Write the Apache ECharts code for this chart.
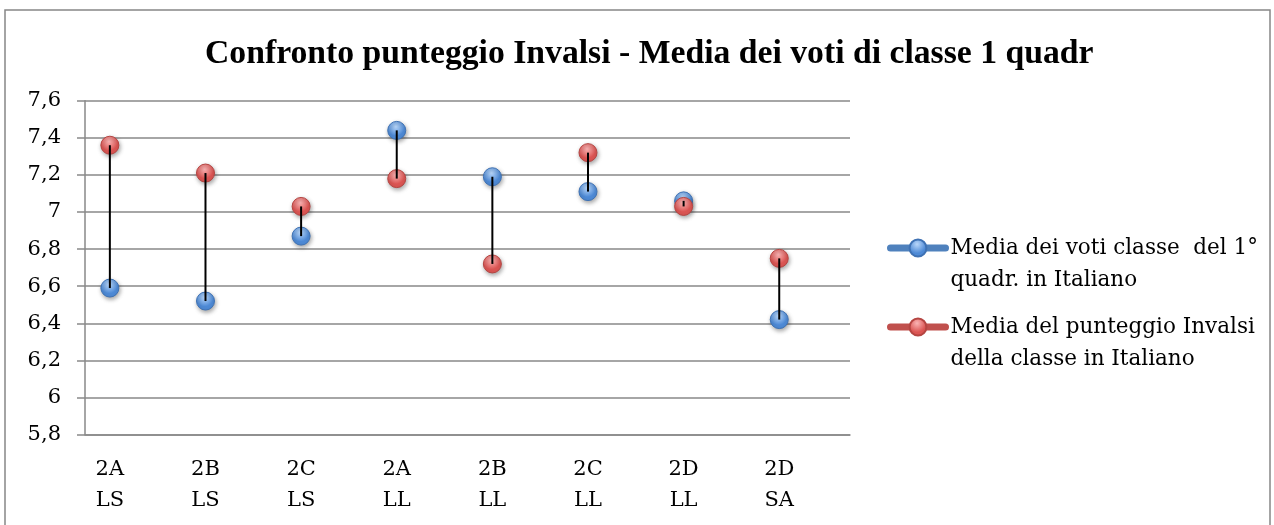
<!DOCTYPE html>
<html>
<head>
<meta charset="utf-8">
<script src="https://cdn.jsdelivr.net/npm/echarts@6/dist/echarts.min.js"></script>
<style>
html,body{margin:0;padding:0;background:#fff;}
#chart{width:1274px;height:525px;}
</style>
</head>
<body>
<div id="chart"></div>
<script>
const titleText = 'Confronto punteggio Invalsi - Media dei voti di classe 1 quadr';
const categories = ['2A\nLS', '2B\nLS', '2C\nLS', '2A\nLL', '2B\nLL', '2C\nLL', '2D\nLL', '2D\nSA'];
const seriesNames = ['Media dei voti classe  del 1° quadr. in Italiano', 'Media del punteggio Invalsi della classe in Italiano'];
const legendLabels = ['Media dei voti classe  del 1°\nquadr. in Italiano', 'Media del punteggio Invalsi\ndella classe in Italiano'];
const votiClasse = [6.59, 6.52, 6.87, 7.44, 7.19, 7.11, 7.06, 6.42];
const punteggioInvalsi = [7.36, 7.21, 7.03, 7.18, 6.72, 7.32, 7.03, 6.75];
const yTicks = { min: 5.8, max: 7.6, interval: 0.2 };

const FONT = 'DejaVu Serif';
const idx = categories.map((c, i) => i);

function marker(light, dark, border) {
  return {
    color: { type: 'radial', x: 0.45, y: 0.3, r: 0.8,
      colorStops: [{ offset: 0, color: light }, { offset: 0.6, color: dark }, { offset: 1, color: dark }] },
    borderColor: border, borderWidth: 1,
    shadowColor: 'rgba(0,0,0,0.35)', shadowBlur: 4, shadowOffsetY: 2, shadowOffsetX: 1,
    opacity: 1
  };
}

const chart = echarts.init(document.getElementById('chart'), null, { renderer: 'canvas' });
chart.setOption({
  animation: false,
  backgroundColor: '#ffffff',
  graphic: [{
    type: 'rect', silent: true, z: -1,
    shape: { x: 5, y: 10, width: 1265, height: 540 },
    style: { fill: 'none', stroke: '#878787', lineWidth: 1.5 }
  }],
  title: {
    text: titleText, left: 205, top: 37, padding: 0,
    textStyle: { fontFamily: 'Liberation Serif', fontWeight: 'bold', fontSize: 33.7, color: '#000' }
  },
  legend: {
    orient: 'vertical', left: 887, top: 200, padding: 0,
    itemWidth: 55, itemHeight: 21, itemGap: -17,
    data: seriesNames,
    formatter: name => '\u00a0\n' + legendLabels[seriesNames.indexOf(name)],
    lineStyle: { width: 7, opacity: 1, cap: 'round' },
    textStyle: { fontFamily: FONT, fontSize: 21.5, color: '#000', lineHeight: 32 }
  },
  grid: { left: 85, right: 424, top: 100.7, bottom: 90.4, containLabel: false },
  xAxis: {
    type: 'value', min: -0.26, max: 7.74,
    axisLine: { show: true, onZero: false, lineStyle: { color: '#898989', width: 1.5 } },
    axisTick: { show: false },
    splitLine: { show: false },
    axisLabel: {
      customValues: idx,
      formatter: v => categories[Math.round(v)],
      fontFamily: FONT, fontSize: 21, color: '#000', lineHeight: 31, margin: 19
    }
  },
  yAxis: {
    type: 'value', min: yTicks.min, max: yTicks.max, interval: yTicks.interval,
    axisLine: { show: true, onZero: false, lineStyle: { color: '#898989', width: 1.5 } },
    axisTick: { show: true, inside: false, length: 8, lineStyle: { color: '#898989', width: 1.5 } },
    splitLine: { show: true, lineStyle: { color: '#898989', width: 1.5 } },
    axisLabel: {
      formatter: v => String(+v.toFixed(1)).replace('.', ','),
      fontFamily: FONT, fontSize: 21, color: '#000', margin: 24
    }
  },
  series: [
    {
      name: seriesNames[0], type: 'line', color: '#4F81BD',
      data: idx.map(i => [i, votiClasse[i]]),
      symbol: 'circle', symbolSize: 18, showSymbol: true,
      lineStyle: { width: 7, opacity: 0, color: '#4F81BD' },
      itemStyle: marker('#b9d7fa', '#4e8ad6', '#3f72b4'),
      z: 2
    },
    {
      name: seriesNames[1], type: 'line', color: '#C0504D',
      data: idx.map(i => [i, punteggioInvalsi[i]]),
      symbol: 'circle', symbolSize: 18, showSymbol: true,
      lineStyle: { width: 7, opacity: 0, color: '#C0504D' },
      itemStyle: marker('#fab4b4', '#db5553', '#b54542'),
      z: 3
    },
    {
      name: 'hilo', type: 'custom', z: 5, silent: true,
      data: idx.map(i => [i, votiClasse[i], punteggioInvalsi[i]]),
      renderItem: function (params, api) {
        const p1 = api.coord([api.value(0), api.value(1)]);
        const p2 = api.coord([api.value(0), api.value(2)]);
        return { type: 'line', shape: { x1: p1[0], y1: p1[1], x2: p2[0], y2: p2[1] },
          style: { stroke: '#000', lineWidth: 2 } };
      }
    }
  ]
});
</script>
</body>
</html>
